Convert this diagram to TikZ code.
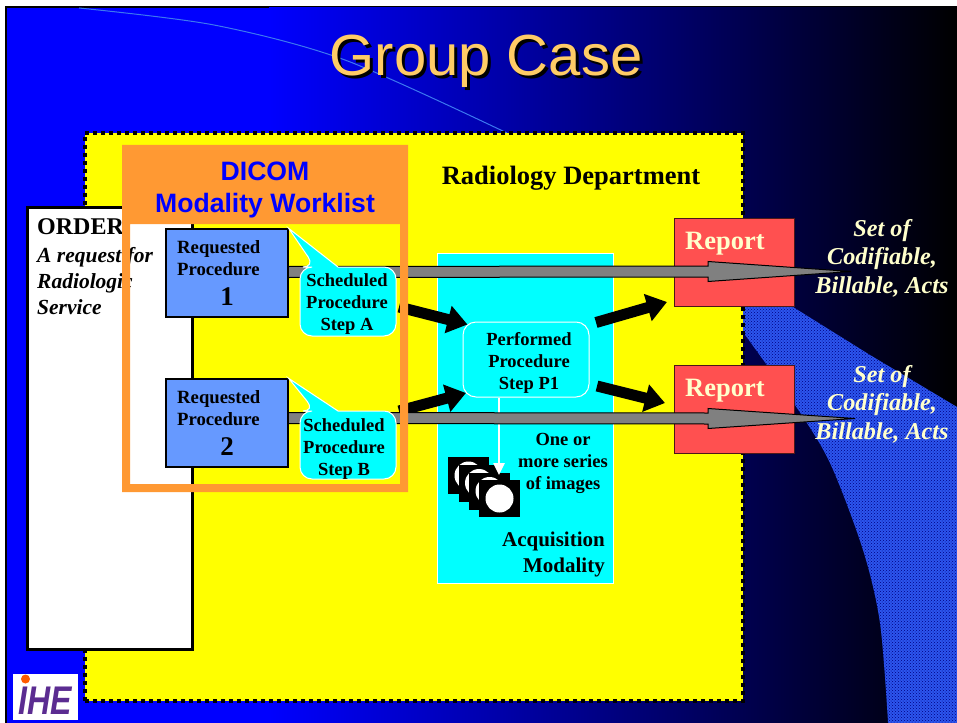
\documentclass[tikz,border=0pt]{standalone}
\usepackage{fontspec}
\setmainfont{Liberation Serif}
\newfontfamily\arialf{Liberation Sans}
\usetikzlibrary{arrows.meta,calc,patterns}
\definecolor{ihecream}{HTML}{FFFFCC}
\definecolor{iheorange}{HTML}{FF9933}
\definecolor{ihebox}{HTML}{6699FF}
\definecolor{iheport}{HTML}{FF5050}
\definecolor{ihetitle}{HTML}{FFCC66}
\definecolor{ihegray}{HTML}{808080}
\definecolor{iheband}{HTML}{2C55EE}
\definecolor{ihepurple}{HTML}{5B2C91}
\definecolor{ihecyan}{HTML}{00FFFF}
\definecolor{iheyellow}{HTML}{FFFF00}
\definecolor{iheblue}{HTML}{0000FF}
\definecolor{ihearc}{HTML}{3C78F0}
\newcommand{\fs}[2]{\fontsize{#1}{#2}\selectfont}
\newcommand{\grayshaft}[3]{%
  \draw[grayshape] ($(#1)+(0,-5.5)$) -- ($(#2)+(-#3,-5.5)$) -- ($(#2)+(-#3,-10)$) -- (#2)
    -- ($(#2)+(-#3,10)$) -- ($(#2)+(-#3,5.5)$) -- ($(#1)+(0,5.5)$) -- cycle;}
\newcommand{\stackimg}[3]{%
  \node[imgsq] (#1) at (#2,#3) {};
  \fill[white] (#1.center) circle[radius=14];}
\tikzset{
  x=1pt,y=-1pt,
  rpbox/.style={draw=black,line width=1.3pt,fill=ihebox,minimum width=122pt,minimum height=88pt,inner sep=0pt},
  reportbox/.style={draw=black!70!iheport,line width=1pt,fill=iheport,minimum width=120pt,minimum height=88pt,inner sep=0pt},
  boldtxt/.style={font=\bfseries\fs{18.5}{22},align=center,inner sep=0pt,text=black},
  settxt/.style={font=\bfseries\itshape\fs{24.2}{28.5},align=center,inner sep=0pt,text=ihecream},
  reporttxt/.style={font=\bfseries\fs{26.5}{30},anchor=west,inner sep=0pt,text=ihecream},
  ordertxt/.style={font=\bfseries\itshape\fs{21.5}{26},align=left,anchor=north west,inner sep=0pt},
  grayshape/.style={draw=black,line width=1pt,fill=ihegray},
  fatarrow/.style={draw=black,line width=11pt,-{Triangle[length=20pt,width=27pt]}},
  calloutshape/.style={draw=white,line width=1pt,fill=ihecyan},
  imgsq/.style={fill=black,minimum width=41pt,minimum height=37pt,inner sep=0pt},
}
\begin{document}
\begin{tikzpicture}
\useasboundingbox (0,0) rectangle (957,722);
% slide background
\fill[white] (0,0) rectangle (957,722);
\fill[black] (5,6) rectangle (957,730);
\fill[iheblue] (7,8) rectangle (270,730);
\shade[left color=iheblue,right color=black] (269,8) rectangle (957,730);
\draw[color=ihearc,line width=1pt] plot[smooth] coordinates {(79,8) (214,25) (345,60) (507,133)};
% textured band
\fill[iheband] (743,285) -- (793,307) -- (870,355) -- (957,407) -- (957,730) -- (888,730)
  -- plot[smooth] coordinates {(888,722) (880,623) (863,550) (830,463) (795,405) (743,332)} -- cycle;
\fill[pattern=crosshatch dots,pattern color=iheblue!50!black] (743,285) -- (793,307) -- (870,355) -- (957,407) -- (957,730) -- (888,730)
  -- plot[smooth] coordinates {(888,722) (880,623) (863,550) (830,463) (795,405) (743,332)} -- cycle;
% title
\node[font=\arialf\fs{58}{60},anchor=base,inner sep=0pt,text=black] (titleshadow) at (489,79) {Group Case};
\node[font=\arialf\fs{58}{60},anchor=base,inner sep=0pt,text=ihetitle] (title) at (486,76) {Group Case};
% department
\node[draw=black,fill=iheyellow,line width=4pt,dash pattern=on 4pt off 4pt,minimum width=658pt,minimum height=568pt,inner sep=0pt] (dept) at (414,417) {};
\node[font=\bfseries\fs{26.5}{30},inner sep=0pt] (depttxt) at (571,178) {Radiology Department};
% order
\node[draw=black,fill=white,line width=3pt,minimum width=165pt,minimum height=442pt,inner sep=0pt] (order) at (109.5,428) {};
\node[font=\bfseries\fs{24}{26},anchor=north west,inner sep=0pt] (ordertitle) at (37,218) {ORDER};
\node[ordertxt] (orderbody) at (37,247) {A request for\\Radiologic\\Service};
% modality
\node[draw=white,line width=1pt,fill=ihecyan,minimum width=176pt,minimum height=330pt,inner sep=0pt] (modality) at (525,418) {};
% reports
\node[reportbox] (rep1) at (734,262.5) {};
\node[reportbox] (rep2) at (734,409) {};
\node[reporttxt] (rep1t) at (685,244) {Report};
\node[reporttxt] (rep2t) at (685,391) {Report};
% image stack
\stackimg{img1}{468.5}{475.5}
\stackimg{img2}{479}{483}
\stackimg{img3}{489.5}{491}
\stackimg{img4}{499.5}{498.5}
% performed step
\node[draw=white,line width=1pt,fill=ihecyan,rounded corners=13pt,minimum width=126pt,minimum height=75pt,inner sep=0pt] (pps) at (526,359.5) {};
\node[boldtxt] (ppst) at (529,363) {Performed\\Procedure\\Step P1};
% black arrows
\coordinate (a1s) at (399,307); \coordinate (a1e) at (467.5,324.5);
\coordinate (a2s) at (399,411); \coordinate (a2e) at (466,393);
\coordinate (a3s) at (596,322.5); \coordinate (a3e) at (667,302);
\coordinate (a4s) at (597,386); \coordinate (a4e) at (665,403);
\draw[fatarrow] (a1s) -- (a1e);
\draw[fatarrow] (a2s) -- (a2e);
\draw[fatarrow] (a3s) -- (a3e);
\draw[fatarrow] (a4s) -- (a4e);
% white arrow
\coordinate (wa) at (499,475);
\draw[draw=white,line width=2.5pt,-{Triangle[length=12pt,width=11pt]}] (pps.south -| wa) -- (wa);
% labels in modality
\node[boldtxt] (serieslbl) at (563,463) {One or\\more series\\of images};
\node[font=\bfseries\fs{21}{26},align=right,anchor=east,inner sep=0pt] (modlbl) at (605,554) {Acquisition\\Modality};
% requested boxes positions for the gray arrows
\coordinate (g1s) at (288,272); \coordinate (g1e) at (851,271.5);
\coordinate (g2s) at (288,418); \coordinate (g2e) at (855,418.5);
\grayshaft{g1s}{g1e}{143}
\grayshaft{g2s}{g2e}{147}
% set of acts
\node[settxt] (set1) at (882,258) {Set of\\Codifiable,\\Billable, Acts};
\node[settxt] (set2) at (882,404) {Set of\\Codifiable,\\Billable, Acts};
% worklist frame
\fill[iheorange,even odd rule] (122,145) rectangle (408,492) (130,224) rectangle (400,484);
\node[font=\arialf\bfseries\fs{26.6}{32},text=iheblue,align=center,inner sep=0pt] (dicom) at (265,190) {DICOM\\Modality Worklist};
% requested procedures
\node[rpbox] (rp1) at (227,273) {};
\node[rpbox] (rp2) at (227,423) {};
\node[font=\bfseries\fs{18.7}{22},align=left,anchor=north west,inner sep=0pt] (rp1t) at (177,240) {Requested\\Procedure};
\node[font=\bfseries\fs{18.7}{22},align=left,anchor=north west,inner sep=0pt] (rp2t) at (177,390) {Requested\\Procedure};
\node[font=\bfseries\fs{27}{30},inner sep=0pt] (rp1n) at (227,297) {1};
\node[font=\bfseries\fs{27}{30},inner sep=0pt] (rp2n) at (227,447) {2};
% scheduled steps
\draw[calloutshape] (rp1.north east) [sharp corners] -- (338,267) [rounded corners=12pt] -- (396,267) -- (396,336) -- (300,336) -- (300,267) -- (315,267) [sharp corners] -- cycle;
\draw[calloutshape] (rp2.north east) [sharp corners] -- (338,411) [rounded corners=12pt] -- (396,411) -- (396,479) -- (300,479) -- (300,411) -- (315,411) [sharp corners] -- cycle;
\node[boldtxt] (spa) at (347,304) {Scheduled\\Procedure\\Step A};
\node[boldtxt] (spb) at (344,449) {Scheduled\\Procedure\\Step B};
% logo
\node[fill=white,minimum width=65pt,minimum height=46pt,inner sep=0pt] (logo) at (45.5,697) {};
\node[font=\arialf\bfseries\itshape\fs{40}{40},text=ihepurple,inner sep=0pt,xscale=.8] (logot) at (45,701) {IHE};
\fill[orange!70!red] (25.5,679) circle[radius=4.5];
\end{tikzpicture}
\end{document}
